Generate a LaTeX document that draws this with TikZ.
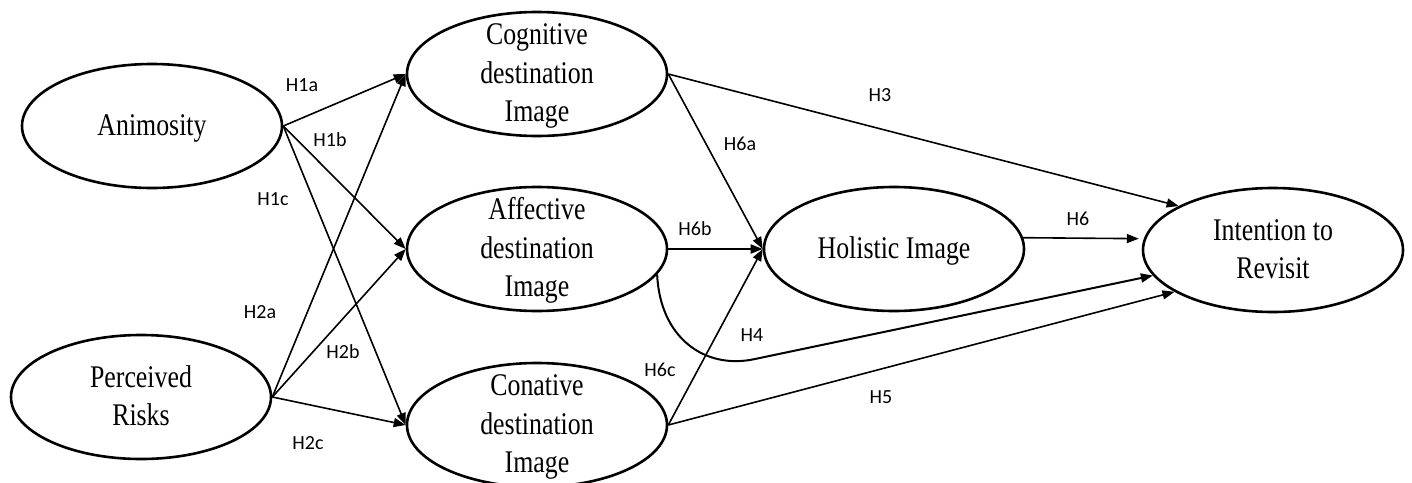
\documentclass[tikz,border=0pt]{standalone}
\usepackage{fontspec}
\setmainfont{Liberation Serif}[FakeStretch=0.82]
\newfontfamily\labelfont{Carlito}
\usetikzlibrary{arrows.meta,shapes.geometric}

% centred block of lines that does not enlarge the oval around it
\newcommand\ovaltext[1]{\raisebox{-16pt}{\smash{\begin{tabular}{@{}c@{}}#1\end{tabular}}}}

\begin{document}
\begin{tikzpicture}[x=1pt,y=-1pt,
  construct/.style={draw, ellipse, line width=2.6pt, minimum width=260pt,
    minimum height=124pt, inner sep=0pt, font=\fontsize{31.5}{38.5}\selectfont},
  link/.style={line width=1.6pt, -{Triangle[length=12pt,width=9pt]}},
  hyp/.style={font=\labelfont\fontsize{20}{23}\selectfont, inner sep=0pt}]
\useasboundingbox (0,0) rectangle (1412,482);

% constructs
\node[construct] (anim) at (152,126) {\ovaltext{Animosity}};
\node[construct] (risk) at (141,397) {\ovaltext{Perceived\\Risks}};
\node[construct] (cog)  at (537,74)  {\ovaltext{Cognitive\\destination\\Image}};
\node[construct] (aff)  at (537,249) {\ovaltext{Affective\\destination\\Image}};
\node[construct] (con)  at (537,425) {\ovaltext{Conative\\destination\\Image}};
\node[construct] (hol)  at (894,249) {\ovaltext{Holistic Image}};
\node[construct] (int)  at (1273,250) {\ovaltext{Intention to\\Revisit}};

% hypothesised paths
\draw[link] (anim.east) -- (cog.west);
\draw[link] (anim.east) -- (aff.west);
\draw[link] (anim.east) -- (con.west);
\draw[link] (risk.east) -- (cog.west);
\draw[link] (risk.east) -- (aff.west);
\draw[link] (risk.east) -- (con.west);
\draw[link] (cog.east) -- (int.155);
\draw[link] (cog.east) -- (hol.west);
\draw[link, line width=2pt] (aff.east) -- (hol.west);
\draw[link] (con.east) -- (hol.west);
\draw[link, line width=2pt] (aff.348) .. controls (660,338) and (705,370) .. (755,359) -- (int.192);
\draw[link] (con.east) -- (int.203);
\draw[link, shorten >=5pt] (hol.5) -- (int.175);

% hypothesis labels
\node[hyp] (h1a) at (302,85)  {H1a};
\node[hyp] (h1b) at (330,140) {H1b};
\node[hyp] (h1c) at (273,199) {H1c};
\node[hyp] (h2a) at (260,312) {H2a};
\node[hyp] (h2b) at (343,352) {H2b};
\node[hyp] (h2c) at (308,443) {H2c};
\node[hyp] (h3)  at (880,95)  {H3};
\node[hyp] (h6a) at (740,144) {H6a};
\node[hyp] (h6b) at (695,229) {H6b};
\node[hyp] (h4)  at (752,335) {H4};
\node[hyp] (h6c) at (660,370) {H6c};
\node[hyp] (h5)  at (881,397) {H5};
\node[hyp] (h6)  at (1078,219) {H6};
\end{tikzpicture}
\end{document}
